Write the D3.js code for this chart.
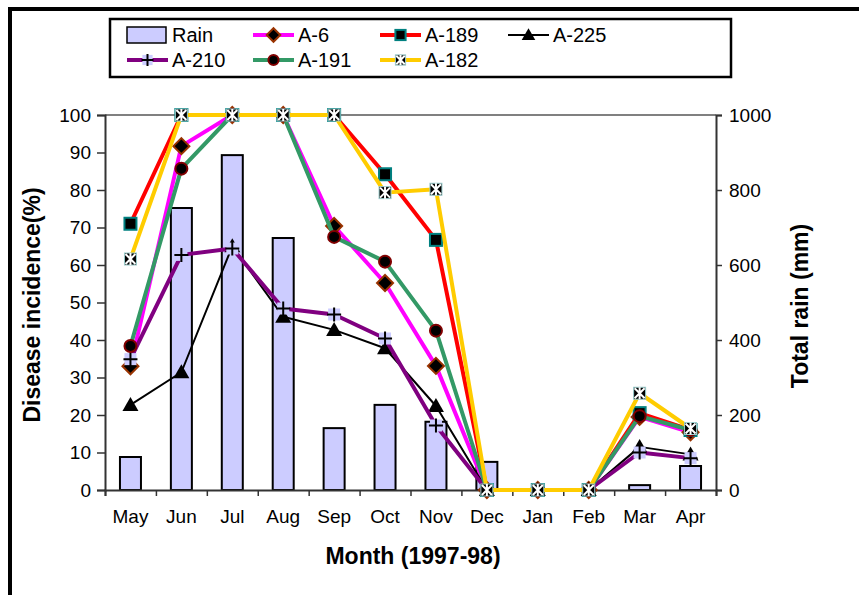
<!DOCTYPE html>
<html><head><meta charset="utf-8">
<script src="https://cdn.jsdelivr.net/npm/d3@7"></script>
<style>body{margin:0;background:#fff}svg{display:block;font-family:"Liberation Sans",Arial,sans-serif}</style>
</head><body>
<svg id="c" width="859" height="595"></svg>
<script>
const months = ["May","Jun","Jul","Aug","Sep","Oct","Nov","Dec","Jan","Feb","Mar","Apr"];
const rain = [88, 752, 893, 672, 165, 227, 182, 75, 0, 0, 13, 64];
const a6   = [33, 91.7, 100, 100, 70.4, 55.2, 33.1, 0, 0, 0, 19.5, 15.4];
const a189 = [71, 100, 100, 100, 100, 84.2, 66.7, 0, 0, 0, 20.5, 16];
const a225 = [22.7, 31.4, 65, 46.2, 42.7, 37.8, 22.4, 0, 0, 0, 11.5, 9.5];
const a210 = [34.9, 62.7, 64.4, 48.4, 46.8, 40.4, 17.2, 0, 0, 0, 10, 8.5];
const a191 = [38.4, 85.7, 100, 100, 67.5, 60.9, 42.5, 0, 0, 0, 19.7, 16];
const a182 = [61.6, 100, 100, 100, 100, 79.3, 80.2, 0, 0, 0, 25.8, 16.4];
const leftTicks = [0,10,20,30,40,50,60,70,80,90,100];
const rightTicks = [0,200,400,600,800,1000];

const series = [
  {name:"A-6", values:a6, color:"#FF00FF", width:4, marker:"diamond"},
  {name:"A-189", values:a189, color:"#FF0000", width:4, marker:"square"},
  {name:"A-225", values:a225, color:"#000000", width:2, marker:"triangle"},
  {name:"A-210", values:a210, color:"#800080", width:4, marker:"plus"},
  {name:"A-191", values:a191, color:"#339966", width:4, marker:"circle"},
  {name:"A-182", values:a182, color:"#FFCC00", width:4, marker:"star"}
];

const svg = d3.select("#c");
const L = 105, R = 716, T = 115, B = 490;
const x = d3.scaleBand().domain(months).range([L, R]).padding(0);
const yL = d3.scaleLinear().domain([0,100]).range([B, T]);
const yR = d3.scaleLinear().domain([0,1000]).range([B, T]);

// outer frame
svg.append("rect").attr("x",10).attr("y",9).attr("width",900).attr("height",700)
  .attr("fill","none").attr("stroke","#000").attr("stroke-width",4);

// plot top border
svg.append("line").attr("x1",L).attr("x2",R).attr("y1",T).attr("y2",T).attr("stroke","#808080").attr("stroke-width",2);

// bars
const bw = 21;
svg.append("g").selectAll("rect").data(rain).join("rect")
  .attr("x",(d,i)=>x(months[i])+x.bandwidth()/2-bw/2)
  .attr("y",d=>yR(d)).attr("width",bw).attr("height",d=>B-yR(d))
  .attr("fill","#CCCCFF").attr("stroke","#000").attr("stroke-width",2);

// axes
const axisColor = "#333";
const gL = svg.append("g").attr("transform",`translate(${L},0)`)
  .call(d3.axisLeft(yL).tickValues(leftTicks).tickSize(8).tickPadding(6).tickFormat(d3.format("d")));
const gR = svg.append("g").attr("transform",`translate(${R},0)`)
  .call(d3.axisRight(yR).tickValues(rightTicks).tickSize(6).tickPadding(7).tickFormat(d3.format("d")));
const xb = d3.scaleLinear().domain([0,12]).range([L,R]);
const gX = svg.append("g").attr("transform",`translate(0,${B})`)
  .call(d3.axisBottom(xb).tickValues(d3.range(0,13)).tickSize(6).tickFormat(""));
const gXL = svg.append("g").attr("transform",`translate(0,${B})`)
  .call(d3.axisBottom(x).tickSize(0).tickPadding(20));
gXL.select(".domain").remove();
[gL,gR,gX].forEach(g=>{
  g.select(".domain").attr("stroke",axisColor).attr("stroke-width",2);
  g.selectAll(".tick line").attr("stroke",axisColor).attr("stroke-width",1.5);
});
svg.selectAll(".tick text").attr("font-size",19).attr("fill","#000").attr("font-family","Liberation Sans, Arial, sans-serif");

// marker drawing
function drawMarker(g, type, cx, cy, scale=1){
  const s = scale;
  if(type==="diamond"){
    g.append("path").attr("d",`M${cx},${cy-8*s}L${cx+8*s},${cy}L${cx},${cy+8*s}L${cx-8*s},${cy}Z`)
      .attr("fill","#000").attr("stroke","#993300").attr("stroke-width",2);
  } else if(type==="square"){
    g.append("rect").attr("x",cx-6*s).attr("y",cy-6*s).attr("width",12*s).attr("height",12*s)
      .attr("fill","#000").attr("stroke","#008080").attr("stroke-width",2);
  } else if(type==="triangle"){
    g.append("path").attr("d",`M${cx},${cy-8*s}L${cx+8*s},${cy+6*s}L${cx-8*s},${cy+6*s}Z`).attr("fill","#000");
  } else if(type==="plus"){
    g.append("rect").attr("x",cx-6*s).attr("y",cy-6*s).attr("width",12*s).attr("height",12*s).attr("fill","#CCCCFF");
    g.append("path").attr("d",`M${cx-7*s},${cy}H${cx+7*s}M${cx},${cy-7*s}V${cy+7*s}`).attr("stroke","#000").attr("stroke-width",2);
  } else if(type==="circle"){
    g.append("circle").attr("cx",cx).attr("cy",cy).attr("r",6*s).attr("fill","#000").attr("stroke","#800000").attr("stroke-width",2);
  } else if(type==="star"){
    g.append("rect").attr("x",cx-6*s).attr("y",cy-6*s).attr("width",12*s).attr("height",12*s)
      .attr("fill","#000").attr("stroke","#99CCCC").attr("stroke-width",1);
    g.append("path").attr("d",`M${cx-5*s},${cy-5*s}L${cx+5*s},${cy+5*s}M${cx+5*s},${cy-5*s}L${cx-5*s},${cy+5*s}M${cx},${cy-6*s}V${cy+6*s}`)
      .attr("stroke","#fff").attr("stroke-width",2);
  }
}

const cx = i => x(months[i]) + x.bandwidth()/2;
const line = d3.line().x((d,i)=>cx(i)).y(d=>yL(d));
series.forEach(s=>{
  const g = svg.append("g");
  g.append("path").attr("d",line(s.values)).attr("fill","none").attr("stroke",s.color)
    .attr("stroke-width",s.width).attr("stroke-linejoin","round");
  s.values.forEach((v,i)=>drawMarker(g, s.marker, cx(i), yL(v)));
});

// axis titles
svg.append("text").attr("transform","translate(40,305) rotate(-90)").attr("text-anchor","middle")
  .attr("font-size",23).attr("font-weight","bold").text("Disease incidence(%)");
svg.append("text").attr("transform","translate(808,306) rotate(-90)").attr("text-anchor","middle")
  .attr("font-size",23).attr("font-weight","bold").text("Total rain (mm)");
svg.append("text").attr("x",413).attr("y",564).attr("text-anchor","middle")
  .attr("font-size",23).attr("font-weight","bold").text("Month (1997-98)");

// legend
const lg = svg.append("g");
lg.append("rect").attr("x",110).attr("y",19).attr("width",621).attr("height",58)
  .attr("fill","#fff").attr("stroke","#000").attr("stroke-width",2.5);
const legendItems = [
  {name:"Rain", type:"bar", x:127, y:35},
  {name:"A-6", s:series[0], x:253, y:35},
  {name:"A-189", s:series[1], x:380, y:35},
  {name:"A-225", s:series[2], x:508, y:35},
  {name:"A-210", s:series[3], x:127, y:60},
  {name:"A-191", s:series[4], x:253, y:60},
  {name:"A-182", s:series[5], x:380, y:60}
];
legendItems.forEach(it=>{
  if(it.type==="bar"){
    lg.append("rect").attr("x",it.x).attr("y",it.y-8).attr("width",39).attr("height",16)
      .attr("fill","#CCCCFF").attr("stroke","#000").attr("stroke-width",1.5);
  } else {
    lg.append("line").attr("x1",it.x).attr("x2",it.x+41).attr("y1",it.y).attr("y2",it.y)
      .attr("stroke",it.s.color).attr("stroke-width",it.s.width);
    drawMarker(lg, it.s.marker, it.x+20.5, it.y, 0.85);
  }
  lg.append("text").attr("x",it.x+45).attr("y",it.y+7).attr("font-size",20).text(it.name);
});
</script>
</body></html>
